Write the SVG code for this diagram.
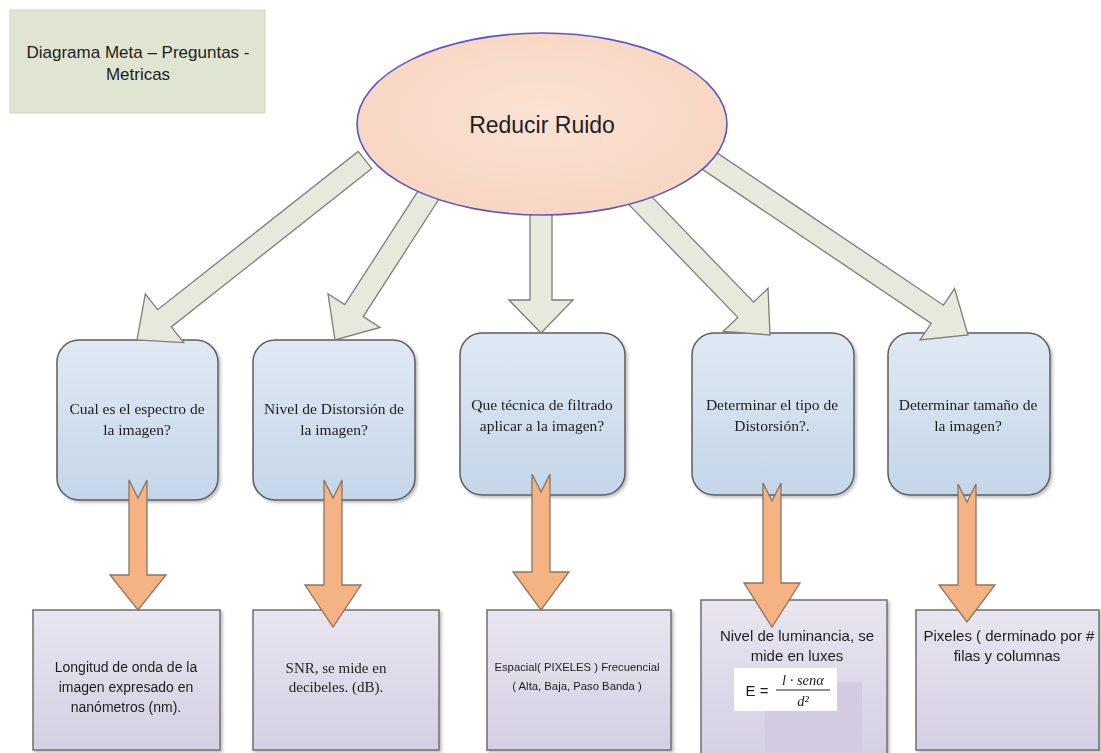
<svg xmlns="http://www.w3.org/2000/svg" width="1101" height="753" viewBox="0 0 1101 753">
<defs>
<linearGradient id="qgrad" x1="0" y1="0" x2="0" y2="1">
<stop offset="0" stop-color="#dfe9f4"/>
<stop offset="1" stop-color="#c4d6e9"/>
</linearGradient>
<linearGradient id="rgrad" x1="0" y1="0" x2="0" y2="1">
<stop offset="0" stop-color="#e8e5f0"/>
<stop offset="1" stop-color="#d5cfe3"/>
</linearGradient>
<radialGradient id="egrad" cx="0.5" cy="0.45" r="0.6">
<stop offset="0" stop-color="#fbe2d3"/>
<stop offset="1" stop-color="#f7d5c0"/>
</radialGradient>
<filter id="sh" x="-10%" y="-10%" width="130%" height="130%">
<feDropShadow dx="2" dy="2" stdDeviation="1.5" flood-color="#000" flood-opacity="0.25"/>
</filter>
</defs>
<style>
.q{fill:url(#qgrad);stroke:#5e5e5e;stroke-width:1.5}
.r{fill:url(#rgrad);stroke:#6f6f6f;stroke-width:1.5}
.g{fill:#e7eadb;stroke:#7d7d7d;stroke-width:1.3;stroke-linejoin:miter}
.o{fill:#f5b283;stroke:#8a7566;stroke-width:1.3}
.serif{font-family:"Liberation Serif","Times New Roman",serif;fill:#1e1e1e;text-anchor:middle}
.sans{font-family:"Liberation Sans",Arial,sans-serif;fill:#1e1e1e;text-anchor:middle}
</style>
<rect width="1101" height="753" fill="#ffffff"/>

<g id="title">
<rect x="10" y="10" width="255" height="103" fill="#dfe5d0" stroke="#cfd3c6" stroke-width="1"/>
<text class="sans" x="138" y="58" font-size="17">Diagrama Meta – Preguntas -</text>
<text class="sans" x="138" y="80" font-size="17">Metricas</text>
</g>

<g id="q1" filter="url(#sh)">
<rect class="q" x="57" y="340" width="161" height="160" rx="22"/>
<text class="serif" x="137" y="414" font-size="15.5">Cual es el espectro de</text>
<text class="serif" x="137" y="435" font-size="15.5">la imagen?</text>
</g>
<g id="q2" filter="url(#sh)">
<rect class="q" x="253" y="340" width="162" height="160" rx="22"/>
<text class="serif" x="334" y="414" font-size="15.5">Nivel de Distorsión de</text>
<text class="serif" x="334" y="435" font-size="15.5">la imagen?</text>
</g>
<g id="q3" filter="url(#sh)">
<rect class="q" x="460" y="333" width="165" height="162" rx="22"/>
<text class="serif" x="542" y="410" font-size="15.5">Que técnica de filtrado</text>
<text class="serif" x="542" y="431" font-size="15.5">aplicar a la imagen?</text>
</g>
<g id="q4" filter="url(#sh)">
<rect class="q" x="692" y="333" width="162" height="162" rx="22"/>
<text class="serif" x="772" y="410" font-size="15.5">Determinar el tipo de</text>
<text class="serif" x="772" y="431" font-size="15.5">Distorsión?.</text>
</g>
<g id="q5" filter="url(#sh)">
<rect class="q" x="888" y="333" width="162" height="162" rx="22"/>
<text class="serif" x="968" y="410" font-size="15.5">Determinar tamaño de</text>
<text class="serif" x="968" y="431" font-size="15.5">la imagen?</text>
</g>

<g id="r1" filter="url(#sh)">
<rect class="r" x="33" y="610" width="187" height="140"/>
<text class="sans" x="126" y="672" font-size="14">Longitud de onda de la</text>
<text class="sans" x="126" y="692" font-size="14">imagen expresado en</text>
<text class="sans" x="126" y="712" font-size="14">nanómetros (nm).</text>
</g>
<g id="r2" filter="url(#sh)">
<rect class="r" x="253" y="610" width="186" height="140"/>
<text class="serif" x="336" y="673" font-size="15">SNR, se mide en</text>
<text class="serif" x="336" y="692" font-size="15">decibeles. (dB).</text>
</g>
<g id="r3" filter="url(#sh)">
<rect class="r" x="487" y="610" width="184" height="140"/>
<text class="sans" x="577" y="671" font-size="11.3">Espacial( PIXELES ) Frecuencial</text>
<text class="sans" x="577" y="690" font-size="11.3">( Alta, Baja, Paso Banda )</text>
</g>
<g id="r4" filter="url(#sh)">
<rect class="r" x="701" y="600" width="186" height="160"/>
<text class="sans" x="797" y="641" font-size="15">Nivel de luminancia, se</text>
<text class="sans" x="797" y="661" font-size="15">mide en luxes</text>
<rect x="765" y="682" width="97" height="71" fill="#d3cbe2"/>
<rect x="734" y="668" width="103" height="43" fill="#ffffff"/>
<text class="sans" x="757" y="696" font-size="15">E =</text>
<text class="serif" x="803" y="685" font-size="14.5" font-style="italic">l · senα</text>
<line x1="776" y1="690" x2="830" y2="690" stroke="#222" stroke-width="1.2"/>
<text class="serif" x="803" y="706" font-size="14.5" font-style="italic">d²</text>
</g>
<g id="r5" filter="url(#sh)">
<rect class="r" x="916" y="610" width="183" height="140"/>
<text class="sans" x="1009" y="641" font-size="15">Pixeles ( derminado por #</text>
<text class="sans" x="1007" y="661" font-size="15">filas y columnas</text>
</g>

<g id="connectors">
<polygon class="g" points="371.8,168.6 171.3,326.9 183.7,342.6 137,340 145.3,294.0 157.7,309.7 358.2,151.4"/>
<polygon class="g" points="444.2,191.0 363.2,316.6 380.0,327.4 335,340 328.0,293.8 344.7,304.6 425.8,179.0"/>
<polygon class="g" points="552,200 552,300 573,300 541,333 509,300 530,300 530,200"/>
<polygon class="g" points="637.9,182.4 753.6,302.2 768.0,288.3 770,335 723.4,331.3 737.8,317.4 622.1,197.6"/>
<polygon class="g" points="711.1,148.9 943.4,305.2 954.6,288.6 968,335 920.0,340.0 931.2,323.4 698.9,167.1"/>
</g>

<g id="goal">
<ellipse cx="542" cy="124" rx="185" ry="91" fill="url(#egrad)" stroke="#5a55c8" stroke-width="1.6"/>
<text class="sans" x="542" y="133" font-size="23">Reducir Ruido</text>
</g>

<g id="connectors-down">
<polygon class="o" points="129,480 138,498 147,480 147,575 166,575 138,610 110,575 129,575"/>
<polygon class="o" points="324,480 333,498 342,480 342,585 361,585 333,627 305,585 324,585"/>
<polygon class="o" points="532,474 541,492 550,474 550,572 569,572 541,610 513,572 532,572"/>
<polygon class="o" points="763,483 772,501 781,483 781,583 800,583 772,627 744,583 763,583"/>
<polygon class="o" points="958,484 967,502 976,484 976,585 995,585 967,622 939,585 958,585"/>
</g>
</svg>
